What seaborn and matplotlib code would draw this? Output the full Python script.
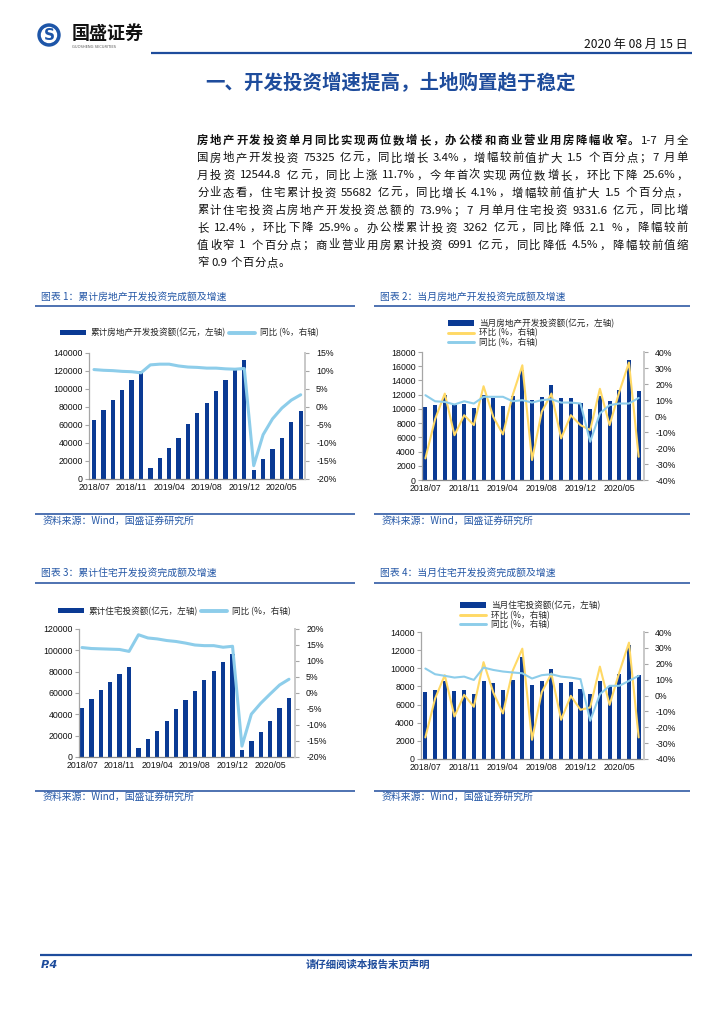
import re
import matplotlib
matplotlib.use('Agg')
import matplotlib.pyplot as plt
from matplotlib.patches import Circle, Patch
from matplotlib.lines import Line2D
import numpy as np
import pandas as pd
import seaborn as sns

# ---------------- data ----------------
months = ["2018/07", "2018/08", "2018/09", "2018/10", "2018/11", "2018/12",
          "2019/02", "2019/03", "2019/04", "2019/05", "2019/06", "2019/07",
          "2019/08", "2019/09", "2019/10", "2019/11", "2019/12",
          "2020/02", "2020/03", "2020/04", "2020/05", "2020/06", "2020/07"]
shown_ticks = ["2018/07", "2018/11", "2019/04", "2019/08", "2019/12", "2020/05"]

# chart 1: cumulative real-estate development investment
cum_invest = [66000, 76500, 88000, 99300, 110000, 120300, 12000, 23800, 34200, 46100, 61600,
              72800, 84600, 98000, 109600, 121300, 132200, 10100, 21900, 33100, 45900, 62800, 75300]
cum_invest_yoy = [10.4, 10.2, 10.1, 9.9, 9.8, 9.5, 11.7, 11.9, 11.9, 11.4, 11.1, 11.0, 10.8,
                  10.8, 10.6, 10.5, 10.7, -16.3, -7.7, -3.3, -0.3, 1.9, 3.4]

# chart 2: monthly real-estate development investment
mon_invest = [10280, 10510, 12010, 10600, 10650, 10140, 12010, 11590, 10420, 11820, 15420, 11210,
              11680, 13320, 11590, 11590, 10890, 10050, 11820, 11070, 12710, 16820, 12480]
mon_invest_mom = [-26.5, -2.0, 14.0, -12.0, 0.5, -5.7, 18.6, -0.5, -11.5, 13.0, 31.7, -27.5,
                  2.6, 14.0, -14.0, 0.5, -5.7, -8.8, 17.0, -5.7, 15.0, 33.4, -25.5]
mon_invest_yoy = [13.0, 9.2, 8.8, 7.2, 9.2, 7.8, 12.0, 12.0, 12.0, 9.2, 9.9, 8.4, 9.9, 10.5,
                  8.4, 8.4, 7.8, -16.1, 1.6, 6.8, 7.8, 7.8, 11.3]

# chart 3: cumulative residential investment
cum_resi = [46200, 54000, 62800, 70000, 77900, 84800, 8500, 17000, 24800, 33300, 44600, 53100,
            61500, 71900, 80700, 89200, 96700, 6600, 15400, 23900, 33300, 46200, 55600]
cum_resi_yoy = [14.2, 13.9, 13.8, 13.7, 13.6, 13.0, 18.2, 17.2, 16.9, 16.4, 16.1, 15.6, 15.0,
                14.8, 14.8, 14.3, 14.6, -16.6, -6.6, -3.2, -0.3, 2.5, 4.3]

# chart 4: monthly residential investment
mon_resi = [7400, 7580, 8570, 7510, 7620, 7140, 8610, 8420, 7580, 8680, 11280, 8200, 8610, 9890,
            8420, 8500, 7690, 7220, 8570, 8060, 9410, 12530, 9230]
mon_resi_mom = [-26.4, -2.0, 12.8, -13.2, 0.4, -7.1, 21.0, 2.0, -11.3, 15.5, 29.5, -27.9, 2.0,
                13.8, -15.3, -0.2, -9.0, -7.5, 18.2, -5.9, 14.5, 33.3, -26.4]
mon_resi_yoy = [17.0, 13.4, 12.4, 11.3, 11.9, 9.8, 17.6, 16.1, 15.1, 14.5, 14.0, 10.7, 12.8, 13.4,
                11.9, 11.3, 10.3, -15.9, 0.8, 6.1, 6.1, 9.2, 12.4]

# tick labels
ticks_140k = [0, 20000, 40000, 60000, 80000, 100000, 120000, 140000]
ticks_18k = [0, 2000, 4000, 6000, 8000, 10000, 12000, 14000, 16000, 18000]
ticks_120k = [0, 20000, 40000, 60000, 80000, 100000, 120000]
ticks_14k = [0, 2000, 4000, 6000, 8000, 10000, 12000, 14000]
pct_m20_15 = [-20, -15, -10, -5, 0, 5, 10, 15]
pct_m20_20 = [-20, -15, -10, -5, 0, 5, 10, 15, 20]
pct_m40_40 = [-40, -30, -20, -10, 0, 10, 20, 30, 40]

# texts
date_text = "2020 年 08 月 15 日"
logo_text = "国盛证券"
logo_sub = "GUOSHENG SECURITIES"
section_title = "一、开发投资增速提高，土地购置趋于稳定"
para_lines = [
    [("房地产开发投资单月同比实现两位数增长，办公楼和商业营业用房降幅收窄。", "bold"), ("1-7 月全", "normal")],
    [("国房地产开发投资 75325 亿元，同比增长 3.4%，增幅较前值扩大 1.5 个百分点；7 月单", "normal")],
    [("月投资 12544.8 亿元，同比上涨 11.7%，今年首次实现两位数增长，环比下降 25.6%，", "normal")],
    [("分业态看，住宅累计投资 55682 亿元，同比增长 4.1%，增幅较前值扩大 1.5 个百分点，", "normal")],
    [("累计住宅投资占房地产开发投资总额的 73.9%；7 月单月住宅投资 9331.6 亿元，同比增", "normal")],
    [("长 12.4%，环比下降 25.9%。办公楼累计投资 3262 亿元，同比降低 2.1 %，降幅较前", "normal")],
    [("值收窄 1 个百分点；商业营业用房累计投资 6991 亿元，同比降低 4.5%，降幅较前值缩", "normal")],
    [("窄 0.9 个百分点。", "normal")],
]
chart_titles = ["图表 1：累计房地产开发投资完成额及增速", "图表 2：当月房地产开发投资完成额及增速",
                "图表 3：累计住宅开发投资完成额及增速", "图表 4：当月住宅开发投资完成额及增速"]
source_text = "资料来源：Wind，国盛证券研究所"
lab_cum_invest = "累计房地产开发投资额(亿元，左轴)"
lab_mon_invest = "当月房地产开发投资额(亿元，左轴)"
lab_cum_resi = "累计住宅投资额(亿元，左轴)"
lab_mon_resi = "当月住宅投资额(亿元，左轴)"
lab_mom = "环比 (%，右轴)"
lab_yoy = "同比 (%，右轴)"
footer_page = "P.4"
footer_text = "请仔细阅读本报告末页声明"

# ---------------- style ----------------
sns.set_style('white')
FAM = ['Noto Sans CJK SC', 'DejaVu Sans']
plt.rcParams['font.family'] = FAM
plt.rcParams['axes.unicode_minus'] = False

BAR = '#0A3A94'
LBLUE = '#8DCDEA'
YELLOW = '#FFD966'
TBLUE = '#2457A6'
HBLUE = '#1E4C9C'
NUMFONT = 'Liberation Sans'

W, H = 724, 1024
fig = plt.figure(figsize=(7.24, 10.24), dpi=100)
bg = fig.add_axes([0, 0, 1, 1])
bg.set_zorder(-1)
bg.set_xlim(0, W)
bg.set_ylim(H, 0)
bg.axis('off')

# ---------------- header ----------------
bg.add_patch(Circle((49, 35), 11, color='#1D55A8', zorder=2))
bg.add_patch(Circle((49, 35), 7.5, color='white', zorder=3))
bg.text(49, 35.5, "S", color='#1D55A8', fontsize=11, fontweight='bold', ha='center', va='center',
        family='DejaVu Sans', zorder=4)
bg.text(72, 33, logo_text, fontsize=13, fontweight='bold', color='#111111', ha='left', va='center')
bg.text(72, 47, logo_sub, fontsize=2.6, color='#555555', ha='left', va='center', family='DejaVu Sans')
bg.text(688, 44, date_text, fontsize=8.7, color='#111111', ha='right', va='center')
bg.plot([151, 692], [53, 53], color=HBLUE, lw=1.6, solid_capstyle='butt')
bg.text(390, 83, section_title, fontsize=14, fontweight='bold', color=HBLUE, ha='center', va='center')

# ---------------- paragraph (justified) ----------------
fig.canvas.draw()
renderer = fig.canvas.get_renderer()
PSIZE = 8.2
em = PSIZE * 100 / 72


def measure(s, weight):
    t = bg.text(0, 0, s, fontsize=PSIZE, fontweight=weight)
    w = t.get_window_extent(renderer).width
    t.remove()
    return w


def draw_line(segs, x0, x1, y, justify=True):
    units = []
    for text, weight in segs:
        for m in re.finditer(r'[A-Za-z0-9.\-%/]+| +|.', text):
            units.append((m.group(), weight))
    widths = []
    for u, w in units:
        if u.strip() == '':
            widths.append(em * 0.22)
        elif all(ord(c) > 0x2E80 for c in u):
            widths.append(em * len(u))
        else:
            widths.append(measure(u, w))
    total = sum(widths)
    extra = (x1 - x0 - total) / (len(units) - 1) if justify else 0.4
    x = x0
    for (u, w), wd in zip(units, widths):
        if u.strip():
            bg.text(x, y, u, fontsize=PSIZE, fontweight=w, color='#111111', ha='left', va='center')
        x += wd + extra


for i, segs in enumerate(para_lines):
    draw_line(segs, 197, 688, 140.5 + i * 17.5, justify=(i < len(para_lines) - 1))

# ---------------- chart frames ----------------
col_x = [(35, 355), (374, 690)]
frame_y = [(297, 306, 514, 521), (573, 583, 791, 797)]
for r in range(2):
    for c in range(2):
        k = r * 2 + c
        xa, xb = col_x[c]
        ty, ly, sy, st = frame_y[r]
        bg.text(xa + 6, ty, chart_titles[k], fontsize=7.1, color=TBLUE, ha='left', va='center')
        bg.plot([xa, xb], [ly, ly], color=HBLUE, lw=1.1, solid_capstyle='butt')
        bg.plot([xa, xb], [sy, sy], color=HBLUE, lw=1.1, solid_capstyle='butt')
        bg.text(xa + 8, st, source_text, fontsize=7.1, color=TBLUE, ha='left', va='center')

# ---------------- footer ----------------
bg.plot([40, 692], [955, 955], color=HBLUE, lw=1.6, solid_capstyle='butt')
bg.text(41, 965, footer_page, fontsize=8, fontweight='bold', fontstyle='italic', color=HBLUE,
        ha='left', va='center', family='DejaVu Sans')
bg.text(368, 965, footer_text, fontsize=7.5, fontweight='bold', color=HBLUE, ha='center', va='center')


def ax_rect(x0, y0, x1, y1):
    return [x0 / W, 1 - y1 / H, (x1 - x0) / W, (y1 - y0) / H]


def draw_chart(rect, xlim, bars, bar_label, lines, lticks, rticks, legend_xy, ncol, lw, bw):
    ax = fig.add_axes(ax_rect(*rect))
    df = pd.DataFrame({'month': months, 'value': bars})
    sns.barplot(data=df, x='month', y='value', order=months, color=BAR, width=bw,
                saturation=1, linewidth=0, ax=ax)
    ax2 = ax.twinx()
    xs = np.arange(len(months))
    for vals, col, lab in lines:
        sns.lineplot(x=xs, y=vals, color=col, lw=lw, ax=ax2, legend=False)
    ax.set_xlim(*xlim)
    ax.set_ylim(lticks[0], lticks[-1])
    ax.set_yticks(lticks)
    ax.set_yticklabels([str(v) for v in lticks])
    ax2.set_ylim(rticks[0], rticks[-1])
    ax2.set_yticks(rticks)
    ax2.set_yticklabels([f"{v}%" for v in rticks])
    ax.set_xticks([months.index(m) for m in shown_ticks])
    ax.set_xticklabels(shown_ticks)
    ax.set_xlabel('')
    ax.set_ylabel('')
    ax2.set_ylabel('')
    for s in ['top', 'right']:
        ax.spines[s].set_visible(False)
    for s in ['top', 'left', 'bottom']:
        ax2.spines[s].set_visible(False)
    ax.spines['left'].set_color('#A6A6A6')
    ax.spines['left'].set_linewidth(0.9)
    ax.spines['bottom'].set_color('#8C8C8C')
    ax.spines['bottom'].set_linewidth(0.9)
    ax2.spines['right'].set_color('#C8C8C8')
    ax2.spines['right'].set_linewidth(1.4)
    ax.tick_params(axis='y', left=True, length=3, width=0.8, color='#A6A6A6', pad=1.5,
                   labelsize=6.3, labelcolor='#111111')
    ax.tick_params(axis='x', bottom=False, length=0, pad=3, labelsize=6.3, labelcolor='#111111')
    ax2.tick_params(axis='y', right=True, length=3, width=0.8, color='#A6A6A6', pad=5,
                    labelsize=6.3, labelcolor='#111111')
    for lab in ax.get_yticklabels() + ax.get_xticklabels() + ax2.get_yticklabels():
        lab.set_fontfamily(NUMFONT)
    handles = [Patch(facecolor=BAR, edgecolor='none')]
    labels = [bar_label]
    for vals, col, lab in lines:
        handles.append(Line2D([0], [0], color=col, lw=lw + 0.6))
        labels.append(lab)
    fig.legend(handles, labels, loc='center left',
               bbox_to_anchor=(legend_xy[0] / W, 1 - legend_xy[1] / H),
               ncol=ncol, frameon=False, fontsize=6.2, handlelength=3.0, handleheight=0.6,
               handletextpad=0.6, columnspacing=0.3, labelspacing=0.05,
               borderpad=0, borderaxespad=0)
    return ax, ax2


draw_chart((89, 353, 305, 479), (-0.53, 22.46), cum_invest, lab_cum_invest,
           [(cum_invest_yoy, LBLUE, lab_yoy)], ticks_140k, pct_m20_15, (60, 333), 2, 2.2, 0.46)
draw_chart((422, 352, 644, 480), (-0.35, 22.55), mon_invest, lab_mon_invest,
           [(mon_invest_mom, YELLOW, lab_mom), (mon_invest_yoy, LBLUE, lab_yoy)],
           ticks_18k, pct_m40_40, (448, 333), 1, 1.5, 0.42)
draw_chart((79, 629, 295, 757), (-0.32, 22.64), cum_resi, lab_cum_resi,
           [(cum_resi_yoy, LBLUE, lab_yoy)], ticks_120k, pct_m20_20, (58, 611), 2, 2.2, 0.46)
draw_chart((421, 632, 644, 759), (-0.45, 22.55), mon_resi, lab_mon_resi,
           [(mon_resi_mom, YELLOW, lab_mom), (mon_resi_yoy, LBLUE, lab_yoy)],
           ticks_14k, pct_m40_40, (460, 615), 1, 1.5, 0.42)

fig.savefig('out.png', dpi=100, facecolor='white')
